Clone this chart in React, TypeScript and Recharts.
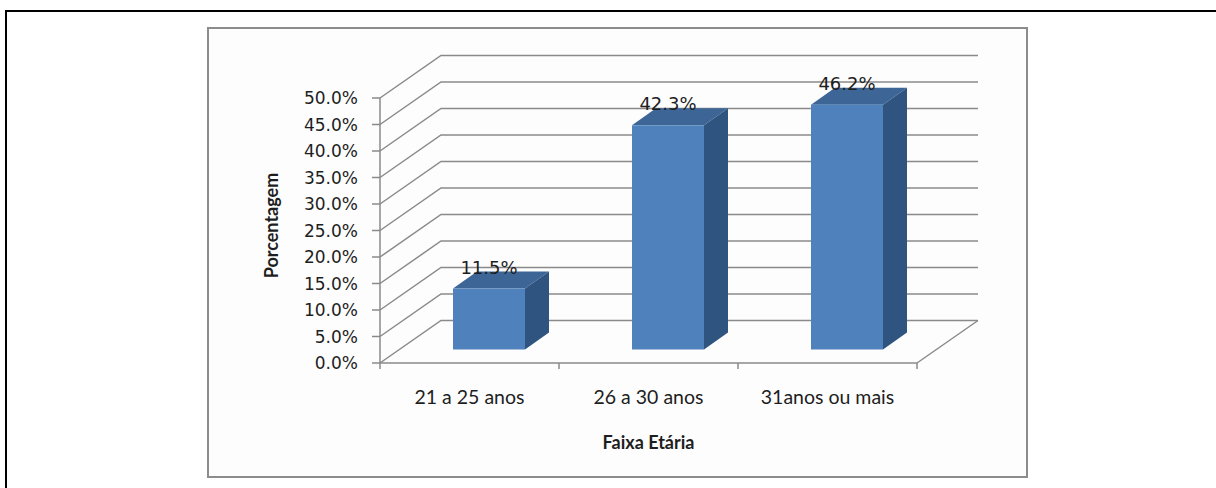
import {
  Bar,
  BarChart,
  CartesianGrid,
  LabelList,
  ReferenceLine,
  XAxis,
  YAxis,
} from "recharts";

const categories = ["21 a 25 anos", "26 a 30 anos", "31anos ou mais"];
const percentages = [11.5, 42.3, 46.2];
const yTicks = [0, 5, 10, 15, 20, 25, 30, 35, 40, 45, 50];

const chartData = categories.map((faixa, i) => ({ faixa, pct: percentages[i] }));

// oblique 3D look: back wall is shifted right/up from the front plane
const WALL_DX = 61;
const WALL_DY = 42.5;
// bars stand part way into the floor and have their own depth
const BAR_OX = 19;
const BAR_OY = 13.5;
const BAR_DX = 24;
const BAR_DY = 17;

const GRID = "#8a8a8a";
const FRONT = "#4f81bd";
const TOP = "#3d6697";
const SIDE = "#2f5480";
const INK = "#1e1e1e";

function WallLine(props: any) {
  const { x1, y1, x2 } = props;
  const by = y1 - WALL_DY;
  return (
    <path
      key={props.key}
      d={`M${x1},${y1}L${x1 + WALL_DX},${by}H${x2 + WALL_DX}`}
      fill="none"
      stroke={GRID}
      strokeWidth={1.5}
    />
  );
}

function FloorEdge(props: any) {
  const x = Math.max(props.x1, props.x2);
  const y = props.y1;
  return (
    <line x1={x} y1={y} x2={x + WALL_DX} y2={y - WALL_DY} stroke={GRID} strokeWidth={1.5} />
  );
}

function Box3D(props: any) {
  const { x, y, width, height } = props;
  const fx = x + BAR_OX;
  const fy = y - BAR_OY;
  const rx = fx + width;
  const by = fy + height;
  return (
    <g>
      <polygon
        points={`${fx},${fy} ${fx + BAR_DX},${fy - BAR_DY} ${rx + BAR_DX},${fy - BAR_DY} ${rx},${fy}`}
        fill={TOP}
      />
      <polygon
        points={`${rx},${fy} ${rx + BAR_DX},${fy - BAR_DY} ${rx + BAR_DX},${by - BAR_DY} ${rx},${by}`}
        fill={SIDE}
      />
      <rect x={fx} y={fy} width={width} height={height} fill={FRONT} />
    </g>
  );
}

function ValueLabel(props: any) {
  const { x, y, width, value } = props;
  return (
    <text
      x={x + BAR_OX + width / 2}
      y={y - BAR_OY - 15}
      textAnchor="middle"
      fontFamily="DejaVu Sans"
      fontSize={18}
      fill={INK}
    >
      {Number(value).toFixed(1)}%
    </text>
  );
}

function CategoryTick(props: any) {
  const { x, y, payload, index } = props;
  const half = payload?.offset ?? 89.5;
  const last = index === categories.length - 1;
  return (
    <g>
      <line x1={x - half} y1={y} x2={x - half} y2={y + 6} stroke={GRID} strokeWidth={1.5} />
      {last && <line x1={x + half} y1={y} x2={x + half} y2={y + 6} stroke={GRID} strokeWidth={1.5} />}
      <text x={x} y={y + 41} textAnchor="middle" fontFamily="Lato" fontSize={19.5} fill={INK}>
        {payload.value}
      </text>
    </g>
  );
}

function YTitle(props: any) {
  const vb = props.viewBox;
  const cx = vb.x + 11;
  const cy = vb.y + vb.height / 2 - 5;
  return (
    <text
      x={cx}
      y={cy}
      transform={`rotate(-90 ${cx} ${cy})`}
      textAnchor="middle"
      dominantBaseline="central"
      fontFamily="Lato"
      fontWeight={700}
      fontSize={18}
      fill={INK}
    >
      Porcentagem
    </text>
  );
}

function XTitle(props: any) {
  const vb = props.viewBox;
  return (
    <text
      x={vb.x + vb.width / 2}
      y={vb.y + 86}
      textAnchor="middle"
      fontFamily="Lato"
      fontWeight={700}
      fontSize={18}
      fill={INK}
    >
      Faixa Etária
    </text>
  );
}

export default function App() {
  return (
    <div
      style={{
        position: "fixed",
        left: 0,
        top: 0,
        width: 1216,
        height: 488,
        background: "#fff",
        overflow: "hidden",
      }}
    >
      <div
        style={{
          position: "absolute",
          left: 5,
          top: 10,
          width: 1300,
          height: 600,
          border: "2px solid #000",
        }}
      />
      <div
        style={{
          position: "absolute",
          left: 207,
          top: 27,
          width: 817,
          height: 447,
          border: "2px solid #8c8c8c",
          background: "#fdfdfd",
        }}
      />
      <div style={{ position: "absolute", left: 0, top: 0 }}>
        <BarChart
          width={1216}
          height={488}
          data={chartData}
          margin={{ top: 98, right: 299, bottom: 25, left: 260 }}
        >
          <CartesianGrid vertical={false} horizontal={WallLine} />
          <XAxis
            dataKey="faixa"
            height={100}
            axisLine={{ stroke: GRID, strokeWidth: 1.5 }}
            tickLine={false}
            tickSize={0}
            tickMargin={0}
            tick={<CategoryTick />}
            interval={0}
            label={XTitle}
          />
          <YAxis
            type="number"
            width={120}
            domain={[0, 50]}
            ticks={yTicks}
            tickFormatter={(v: number) => `${v.toFixed(1)}%`}
            tick={{ fill: INK, fontSize: 17, fontFamily: "DejaVu Sans" }}
            tickSize={8}
            tickMargin={14}
            tickLine={{ stroke: GRID, strokeWidth: 1.5 }}
            axisLine={{ stroke: GRID, strokeWidth: 1.5 }}
            label={YTitle}
          />
          <ReferenceLine y={0} ifOverflow="visible" shape={FloorEdge} />
          <Bar dataKey="pct" barSize={72} shape={Box3D} isAnimationActive={false}>
            <LabelList dataKey="pct" content={ValueLabel} />
          </Bar>
        </BarChart>
      </div>
    </div>
  );
}
